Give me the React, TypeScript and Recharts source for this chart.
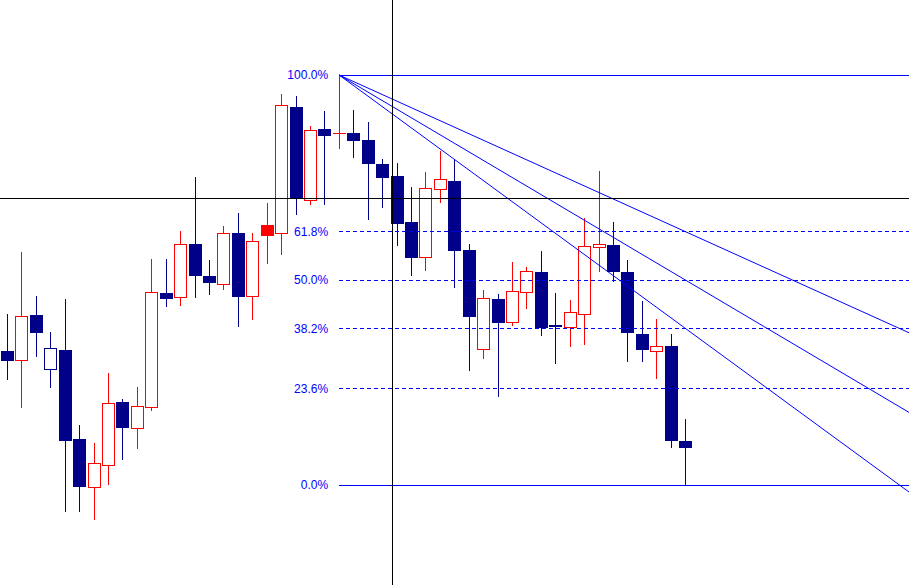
import { ComposedChart, Bar, XAxis, YAxis, ReferenceLine } from "recharts";

// candle values, one entry per bar (oldest first)
const OPEN = [
	1.2134, 1.2125, 1.217, 1.2137, 1.2135, 1.2046, 1.1998, 1.202, 1.2083, 1.2057,
	1.2078, 1.2192, 1.2188, 1.2241, 1.2209, 1.2201, 1.2252, 1.2189, 1.225, 1.2252,
	1.2378, 1.2285, 1.2356, 1.2352, 1.2352, 1.2345, 1.2321, 1.2309, 1.2263, 1.2228,
	1.2296, 1.2304, 1.2235, 1.2136, 1.2186, 1.2163, 1.2193, 1.2213, 1.216, 1.2158,
	1.2171, 1.2238, 1.224, 1.2213, 1.2151, 1.2134, 1.2139, 1.2044,
];
const HIGH = [
	1.2171, 1.2233, 1.2189, 1.2153, 1.2186, 1.206, 1.2042, 1.2112, 1.2086, 1.2098,
	1.2226, 1.2226, 1.2254, 1.2308, 1.2225, 1.2259, 1.2272, 1.2252, 1.2282, 1.2391,
	1.2389, 1.2359, 1.2374, 1.241, 1.2375, 1.2363, 1.2326, 1.2322, 1.2298, 1.2313,
	1.2334, 1.2326, 1.2241, 1.2195, 1.2191, 1.2223, 1.2218, 1.2234, 1.2192, 1.2185,
	1.2267, 1.2314, 1.2263, 1.2225, 1.2184, 1.2166, 1.2151, 1.2066,
];
const LOW = [
	1.2105, 1.2077, 1.2128, 1.2097, 1.1973, 1.1973, 1.1965, 1.2, 1.2025, 1.2036,
	1.2074, 1.2178, 1.2179, 1.2187, 1.219, 1.2195, 1.2158, 1.2165, 1.2221, 1.223,
	1.227, 1.228, 1.228, 1.2336, 1.2327, 1.2265, 1.2277, 1.2239, 1.2209, 1.2214,
	1.2282, 1.2197, 1.2114, 1.2126, 1.2088, 1.2159, 1.2176, 1.2149, 1.2121, 1.2138,
	1.214, 1.2213, 1.2203, 1.2123, 1.2123, 1.2106, 1.2037, 1.2,
];
const CLOSE = [
	1.2125, 1.2169, 1.2153, 1.2116, 1.2045, 1.1999, 1.2022, 1.2082, 1.2058, 1.2079,
	1.2193, 1.2187, 1.2241, 1.221, 1.2203, 1.2252, 1.2189, 1.2244, 1.226, 1.238,
	1.2287, 1.2355, 1.235, 1.2352, 1.2345, 1.2322, 1.2308, 1.2262, 1.2228, 1.2297,
	1.2306, 1.2235, 1.2169, 1.2187, 1.2163, 1.2194, 1.2214, 1.2158, 1.2159, 1.2173,
	1.2239, 1.2241, 1.2214, 1.2153, 1.2136, 1.2139, 1.2045, 1.2038,
];

// fibonacci tool anchors (bar index) and levels
const FIB_START = 23;
const FIB_END = 47;
const FIB_LEVELS = [0, 23.6, 38.2, 50, 61.8, 100];
const FAN_LEVELS = [38.2, 50, 61.8];

// crosshair
const CROSS_X = 26.7;
const CROSS_Y = 1.2287;

const X_DOMAIN: [number, number] = [-0.5, 62.5];
const Y_DOMAIN: [number, number] = [1.19, 1.2485];

const RED = "#ff0000";
const NAVY = "#000088";
const BLUE = "#0000ff";
// two bars drawn with the opposite fill in the source
const FILL_SWAPPED = [3, 18];

const data = OPEN.map((open, i) => ({
	i,
	open,
	high: HIGH[i],
	low: LOW[i],
	close: CLOSE[i],
	range: [LOW[i], HIGH[i]],
}));

const fibHigh = HIGH[FIB_START];
const fibLow = LOW[FIB_END];
const levelPrice = (pct: number) => fibLow + ((fibHigh - fibLow) * pct) / 100;

function Candle(props: any) {
	const { x, y, height, payload, index } = props;
	if (x == null || y == null) return null;
	const { open, close, high, low } = payload;
	const ratio = height / (high - low);
	const yOf = (v: number) => Math.round(y + (high - v) * ratio);
	const up = close >= open;
	const hollow = up !== FILL_SWAPPED.includes(index);
	const color = up ? RED : NAVY;
	const left = Math.round(x);
	const cx = left + 6.5;
	const top = yOf(Math.max(open, close));
	const bottom = yOf(Math.min(open, close));
	const yh = yOf(high);
	const yl = yOf(low);
	return (
		<g>
			<line x1={cx} x2={cx} y1={yh} y2={yl} stroke={color} strokeWidth={1} />
			{bottom - top < 1 ? (
				<line x1={left} x2={left + 13} y1={top + 0.5} y2={top + 0.5} stroke={color} />
			) : hollow ? (
				<rect
					x={left + 0.5}
					y={top + 0.5}
					width={12}
					height={bottom - top}
					fill="#ffffff"
					stroke={color}
					strokeWidth={1}
				/>
			) : (
				<rect x={left} y={top} width={13} height={bottom - top + 1} fill={color} />
			)}
		</g>
	);
}

export default function App() {
	const xMax = X_DOMAIN[1];
	return (
		<div style={{ position: "absolute", left: 0, top: 0, width: 909, height: 585, background: "#fff" }}>
			<ComposedChart
				width={909}
				height={585}
				data={data}
				margin={{ top: 0, right: 0, bottom: 0, left: 0 }}
			>
				<XAxis dataKey="i" type="number" domain={X_DOMAIN} allowDataOverflow hide />
				<YAxis type="number" domain={Y_DOMAIN} allowDataOverflow hide />
				<Bar dataKey="range" barSize={13} shape={Candle} isAnimationActive={false} />
				{FIB_LEVELS.map((pct) => {
					const solid = pct === 0 || pct === 100;
					return (
						<ReferenceLine
							key={"fib" + pct}
							segment={[
								{ x: FIB_START, y: levelPrice(pct) },
								{ x: xMax, y: levelPrice(pct) },
							]}
							stroke={BLUE}
							strokeWidth={1}
							strokeDasharray={solid ? undefined : "4 3"}
							shapeRendering="crispEdges"
							ifOverflow="hidden"
							label={{
								value: pct.toFixed(1) + "%",
								position: "left",
								offset: 11,
								fill: BLUE,
								fontSize: 12,
								fontFamily: "Liberation Sans, Arial, sans-serif",
							}}
						/>
					);
				})}
				{FAN_LEVELS.map((pct) => {
					const slope = (levelPrice(pct) - fibHigh) / (FIB_END - FIB_START);
					return (
						<ReferenceLine
							key={"fan" + pct}
							segment={[
								{ x: FIB_START, y: fibHigh },
								{ x: xMax, y: fibHigh + slope * (xMax - FIB_START) },
							]}
							stroke={BLUE}
							strokeWidth={1}
							ifOverflow="hidden"
						/>
					);
				})}
				<ReferenceLine x={CROSS_X} stroke="#000000" strokeWidth={1} shapeRendering="crispEdges" />
				<ReferenceLine y={CROSS_Y} stroke="#000000" strokeWidth={1} shapeRendering="crispEdges" />
			</ComposedChart>
		</div>
	);
}
